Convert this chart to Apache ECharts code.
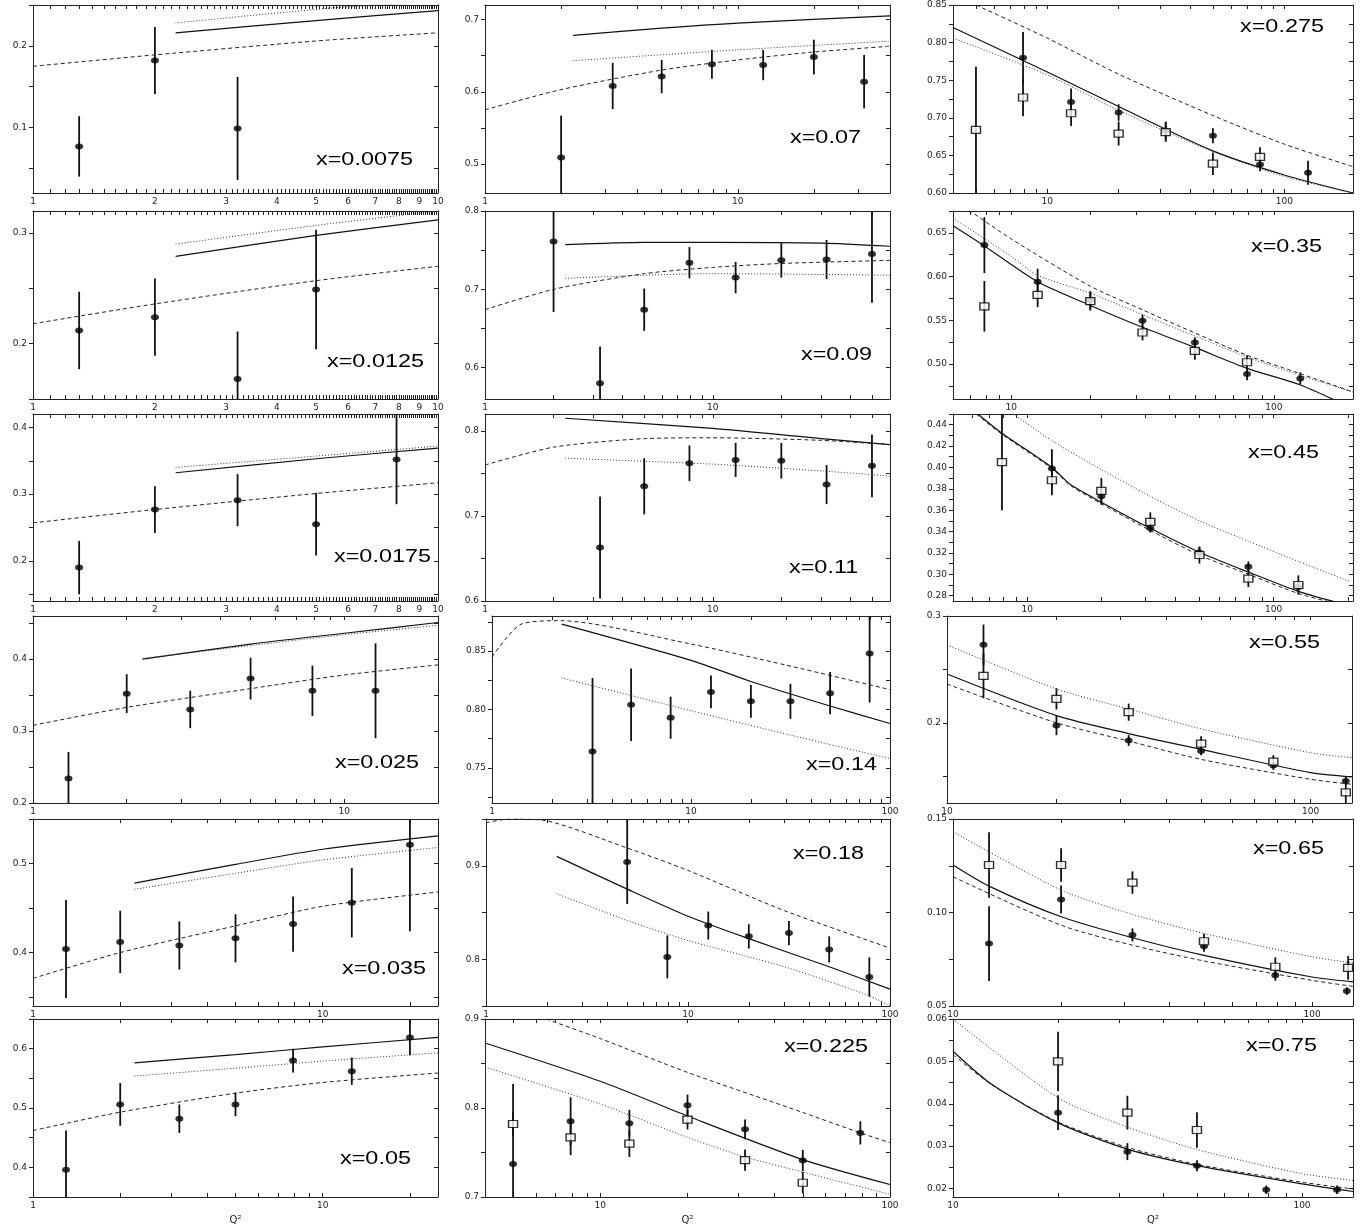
<!DOCTYPE html>
<html>
<head>
<meta charset="utf-8">
<title>F2 vs Q2</title>
<script src="https://cdn.jsdelivr.net/npm/echarts@6/dist/echarts.min.js"></script>
<style>
  html, body { margin: 0; padding: 0; background: #fff; }
  #main { width: 1372px; height: 1228px; }
</style>
</head>
<body>
<div id="main"></div>
<script>
// points are [Q2, value, error], curve points are [Q2, value]
// dots = filled circles, boxes = open squares

// x=0.0075
const dots1 = [[1.3, 0.077, 0.037], [2.0, 0.182, 0.041], [3.2, 0.099, 0.063]];
const solid1 = [[2.25, 0.216], [5, 0.231], [10, 0.243]];
const dash1 = [[1, 0.175], [2, 0.189], [5, 0.206], [10, 0.216]];
const dot1 = [[2.25, 0.228], [6, 0.248], [10, 0.253]];

// x=0.0125
const dots2 = [[1.3, 0.212, 0.035], [2.0, 0.224, 0.035], [3.2, 0.168, 0.043], [5.0, 0.249, 0.054]];
const solid2 = [[2.25, 0.279], [5, 0.298], [10, 0.312]];
const dash2 = [[1, 0.218], [2, 0.236], [5, 0.257], [10, 0.270]];
const dot2 = [[2.25, 0.290], [5, 0.307], [10, 0.320]];

// x=0.0175
const dots3 = [[1.3, 0.190, 0.040], [2.0, 0.277, 0.035], [3.2, 0.291, 0.039], [5.0, 0.255, 0.047], [7.9, 0.352, 0.067]];
const solid3 = [[2.25, 0.332], [5, 0.353], [10, 0.369]];
const dash3 = [[1, 0.257], [2, 0.277], [5, 0.301], [10, 0.317]];
const dot3 = [[2.25, 0.340], [5, 0.357], [10, 0.372]];

// x=0.025
const dots4 = [[1.3, 0.234, 0.037], [2.0, 0.352, 0.027], [3.2, 0.330, 0.026], [5.0, 0.373, 0.029], [7.9, 0.356, 0.035], [12.6, 0.356, 0.066]];
const solid4 = [[2.25, 0.400], [5, 0.421], [10, 0.436], [20, 0.451]];
const dash4 = [[1, 0.308], [2, 0.333], [5, 0.359], [10, 0.378], [20, 0.392]];
const dot4 = [[2.25, 0.401], [5, 0.419], [10, 0.434], [20, 0.447]];

// x=0.035
const dots5 = [[1.3, 0.404, 0.055], [2.0, 0.412, 0.035], [3.2, 0.408, 0.027], [5.0, 0.416, 0.027], [7.9, 0.432, 0.031], [12.6, 0.456, 0.039], [20, 0.521, 0.097]];
const solid5 = [[2.24, 0.478], [5, 0.499], [10, 0.516], [25, 0.531]];
const dash5 = [[1, 0.371], [2, 0.400], [5, 0.430], [10, 0.452], [25, 0.468]];
const dot5 = [[2.24, 0.471], [5, 0.489], [10, 0.504], [25, 0.518]];

// x=0.05
const dots6 = [[1.3, 0.396, 0.066], [2.0, 0.506, 0.036], [3.2, 0.482, 0.024], [5.0, 0.506, 0.020], [7.9, 0.580, 0.020], [12.6, 0.562, 0.023], [20, 0.619, 0.030]];
const solid6 = [[2.24, 0.576], [5, 0.590], [10, 0.603], [25, 0.619]];
const dash6 = [[1, 0.462], [2, 0.493], [5, 0.525], [10, 0.543], [25, 0.559]];
const dot6 = [[2.24, 0.554], [5, 0.567], [10, 0.579], [25, 0.593]];

// x=0.07
const dots7 = [[2.0, 0.509, 0.058], [3.2, 0.608, 0.032], [5.0, 0.621, 0.023], [7.9, 0.638, 0.020], [12.6, 0.637, 0.021], [20, 0.648, 0.024], [31.6, 0.614, 0.037]];
const solid7 = [[2.23, 0.678], [5, 0.688], [10, 0.695], [40, 0.705]];
const dash7 = [[1, 0.575], [2, 0.603], [5, 0.630], [10, 0.644], [20, 0.655], [40, 0.663]];
const dot7 = [[2.23, 0.643], [10, 0.658], [40, 0.670]];

// x=0.09
const dots8 = [[2.0, 0.761, 0.090], [3.2, 0.580, 0.047], [5.0, 0.674, 0.027], [7.9, 0.734, 0.020], [12.6, 0.715, 0.020], [20, 0.737, 0.022], [31.6, 0.738, 0.025], [50, 0.745, 0.062]];
const solid8 = [[2.25, 0.757], [5, 0.760], [10, 0.760], [30, 0.759], [60, 0.755]];
const dash8 = [[1, 0.674], [2, 0.700], [5, 0.720], [10, 0.728], [20, 0.733], [60, 0.737]];
const dot8 = [[2.25, 0.714], [5, 0.718], [10, 0.720], [30, 0.719], [60, 0.718]];

// x=0.11
const dots9 = [[3.2, 0.663, 0.060], [5.0, 0.735, 0.033], [7.9, 0.762, 0.021], [12.6, 0.766, 0.020], [20, 0.765, 0.021], [31.6, 0.737, 0.023], [50, 0.759, 0.037]];
const solid9 = [[2.25, 0.815], [10, 0.803], [30, 0.791], [60, 0.784]];
const dash9 = [[1, 0.760], [2, 0.781], [5, 0.791], [10, 0.792], [30, 0.789], [60, 0.784]];
const dot9 = [[2.25, 0.768], [10, 0.761], [30, 0.753], [60, 0.747]];

// x=0.14
const dots10 = [[3.2, 0.764, 0.063], [5.0, 0.804, 0.031], [7.9, 0.793, 0.018], [12.6, 0.815, 0.014], [20, 0.807, 0.014], [31.6, 0.807, 0.015], [50, 0.814, 0.018], [79, 0.848, 0.042]];
const solid10 = [[2.24, 0.873], [10, 0.842], [20, 0.824], [50, 0.803], [100, 0.788]];
const dash10 = [[1, 0.845], [1.4, 0.873], [2.2, 0.876], [10, 0.856], [30, 0.838], [100, 0.817]];
const dot10 = [[2.24, 0.827], [10, 0.799], [30, 0.779], [100, 0.758]];

// x=0.18
const dots11 = [[5.0, 0.904, 0.045], [7.9, 0.8025, 0.023], [12.6, 0.836, 0.015], [20, 0.8245, 0.013], [31.6, 0.828, 0.013], [50, 0.8105, 0.014], [79, 0.781, 0.021]];
const solid11 = [[2.24, 0.910], [5, 0.875], [10, 0.846], [20, 0.822], [50, 0.792], [100, 0.768]];
const dash11 = [[1, 0.946], [1.3, 0.950], [2, 0.948], [5, 0.919], [10, 0.895], [30, 0.852], [100, 0.812]];
const dot11 = [[2.24, 0.870], [5, 0.8415], [10, 0.820], [30, 0.792], [79, 0.761], [100, 0.750]];

// x=0.225
const dots12 = [[5.0, 0.737, 0.090], [7.9, 0.785, 0.027], [12.6, 0.783, 0.015], [20, 0.803, 0.012], [31.6, 0.776, 0.011], [50, 0.741, 0.012], [79, 0.772, 0.013]];
const boxes12 = [[5.0, 0.782, 0.013], [7.9, 0.767, 0.020], [12.6, 0.760, 0.015], [20, 0.787, 0.011], [31.6, 0.7415, 0.012], [50, 0.716, 0.012]];
const solid12 = [[4, 0.873], [10, 0.830], [20, 0.791], [50, 0.742], [100, 0.714]];
const dash12 = [[6.5, 0.900], [10, 0.878], [20, 0.840], [50, 0.795], [79, 0.772], [100, 0.761]];
const dot12 = [[4, 0.846], [10, 0.8045], [20, 0.767], [31.6, 0.745], [50, 0.728], [100, 0.703]];

// x=0.275
const dots13 = [[7.9, 0.780, 0.034], [12.6, 0.721, 0.018], [20, 0.707, 0.011], [31.6, 0.683, 0.012], [50, 0.676, 0.010], [79, 0.638, 0.009], [126, 0.627, 0.016]];
const boxes13 = [[5.0, 0.684, 0.084], [7.9, 0.727, 0.025], [12.6, 0.706, 0.017], [20, 0.679, 0.016], [31.6, 0.681, 0.013], [50, 0.639, 0.015], [79, 0.648, 0.013]];
const solid13 = [[4, 0.820], [10, 0.761], [20, 0.715], [50, 0.656], [100, 0.624], [195, 0.600]];
const dash13 = [[5, 0.850], [10, 0.806], [20, 0.758], [50, 0.703], [100, 0.665], [195, 0.635]];
const dot13 = [[4, 0.806], [10, 0.757], [20, 0.710], [50, 0.655], [100, 0.622], [195, 0.600]];

// x=0.35
const dots14 = [[7.9, 0.636, 0.032], [12.6, 0.594, 0.015], [20, 0.573, 0.010], [31.6, 0.5495, 0.007], [50, 0.5245, 0.006], [79, 0.4885, 0.007], [126, 0.4835, 0.007]];
const boxes14 = [[7.9, 0.566, 0.029], [12.6, 0.579, 0.014], [20, 0.572, 0.011], [31.6, 0.536, 0.009], [50, 0.515, 0.010], [79, 0.502, 0.008]];
const solid14 = [[6, 0.658], [7.9, 0.635], [12.6, 0.594], [20, 0.567], [31.6, 0.542], [50, 0.519], [79, 0.495], [126, 0.476], [200, 0.449]];
const dash14 = [[6.9, 0.676], [10, 0.643], [20, 0.589], [31.6, 0.562], [50, 0.5355], [79, 0.510], [126, 0.489], [200, 0.468]];
const dot14 = [[6, 0.667], [10, 0.623], [12.6, 0.6015], [20, 0.581], [31.6, 0.5565], [50, 0.532], [79, 0.508], [126, 0.487], [200, 0.468]];

// x=0.45
const dots15 = [[12.6, 0.399, 0.018], [20, 0.373, 0.008], [31.6, 0.343, 0.004], [50, 0.3205, 0.005], [79, 0.307, 0.005], [126, 0.288, 0.005]];
const boxes15 = [[7.9, 0.405, 0.045], [12.6, 0.388, 0.014], [20, 0.378, 0.012], [31.6, 0.349, 0.009], [50, 0.318, 0.008], [79, 0.296, 0.008], [126, 0.290, 0.009]];
const solid15 = [[6.3, 0.450], [7.9, 0.432], [12.6, 0.400], [15, 0.384], [20, 0.3675], [31.6, 0.343], [50, 0.3206], [79, 0.302], [126, 0.284], [176, 0.2744]];
const dash15 = [[6.2, 0.450], [7.9, 0.431], [12.6, 0.399], [15, 0.383], [20, 0.366], [31.6, 0.341], [50, 0.318], [79, 0.300], [126, 0.282], [170, 0.274]];
const dot15 = [[8.8, 0.450], [12.6, 0.425], [20, 0.398], [31.6, 0.373], [50, 0.350], [79, 0.331], [126, 0.312], [205, 0.293]];

// x=0.55
const dots16 = [[12.6, 0.273, 0.019], [20, 0.1975, 0.009], [31.6, 0.1835, 0.005], [50, 0.1736, 0.004], [79, 0.160, 0.004], [125, 0.1457, 0.004]];
const boxes16 = [[12.6, 0.244, 0.021], [20, 0.2225, 0.010], [31.6, 0.210, 0.008], [50, 0.1805, 0.007], [79, 0.1637, 0.006], [125, 0.135, 0.012]];
const solid16 = [[10, 0.2457], [20, 0.2068], [31.6, 0.190], [50, 0.1752], [100, 0.1534], [130, 0.1494]];
const dash16 = [[10, 0.2363], [20, 0.200], [31.6, 0.183], [50, 0.1658], [100, 0.1472], [130, 0.1425]];
const dot16 = [[10, 0.273], [20, 0.2317], [31.6, 0.213], [50, 0.1944], [100, 0.172], [130, 0.1674]];

// x=0.65
const dots17 = [[12.6, 0.0834, 0.020], [20, 0.107, 0.0075], [31.6, 0.088, 0.0035], [50, 0.082, 0.003], [79, 0.0665, 0.003], [125, 0.058, 0.002]];
const boxes17 = [[12.6, 0.1254, 0.0175], [20, 0.1254, 0.009], [31.6, 0.116, 0.006], [50, 0.0846, 0.004], [79, 0.071, 0.005], [126, 0.0704, 0.0063]];
const solid17 = [[10, 0.1254], [12.6, 0.1141], [20, 0.0977], [31.6, 0.0865], [50, 0.0771], [100, 0.0655], [130, 0.0629]];
const dash17 = [[10, 0.1191], [20, 0.0932], [31.6, 0.0825], [50, 0.0741], [100, 0.0637], [130, 0.0605]];
const dot17 = [[10, 0.1432], [20, 0.112], [31.6, 0.099], [50, 0.0888], [100, 0.0763], [130, 0.073]];

// x=0.75
const dots18 = [[20, 0.0379, 0.0041], [31.6, 0.0287, 0.002], [50, 0.0254, 0.0013], [79, 0.0197, 0.001], [126, 0.0197, 0.001]];
const boxes18 = [[20, 0.050, 0.007], [31.6, 0.0379, 0.004], [50, 0.0338, 0.0042]];
const solid18 = [[10, 0.0524], [13, 0.0444], [20, 0.0355], [31.6, 0.0293], [50, 0.0254], [100, 0.0211], [140, 0.0193]];
const dash18 = [[10, 0.0516], [13, 0.0443], [20, 0.0357], [31.6, 0.0297], [50, 0.0257], [100, 0.0215], [140, 0.0199]];
const dot18 = [[10, 0.060], [20, 0.0414], [31.6, 0.0345], [50, 0.0292], [100, 0.0235], [140, 0.0219]];

// panel layout: box = [left, top, width, height], x/y = axis ranges
const panels = [
  { name: 'x=0.0075', box: [33, 5, 405, 188], x: [1, 10], y: [0.02, 0.25], yLab: [0.1, 0.2], step: 0.05, dec: 1, fine: true, dots: dots1, solid: solid1, dash: dash1, dot: dot1, tx: 316, ty: 160 },
  { name: 'x=0.0125', box: [33, 211, 405, 188], x: [1, 10], y: [0.15, 0.32], yLab: [0.2, 0.3], step: 0.05, dec: 1, fine: true, dots: dots2, solid: solid2, dash: dash2, dot: dot2, tx: 327, ty: 362 },
  { name: 'x=0.0175', box: [33, 414, 405, 187], x: [1, 10], y: [0.14, 0.42], yLab: [0.2, 0.3, 0.4], step: 0.05, dec: 1, fine: true, dots: dots3, solid: solid3, dash: dash3, dot: dot3, tx: 334, ty: 557 },
  { name: 'x=0.025', box: [33, 616, 405, 187], x: [1, 20], y: [0.2, 0.46], yLab: [0.2, 0.3, 0.4], step: 0.05, dec: 1, dots: dots4, solid: solid4, dash: dash4, dot: dot4, tx: 335, ty: 763 },
  { name: 'x=0.035', box: [33, 819, 405, 187], x: [1, 25], y: [0.34, 0.55], yLab: [0.4, 0.5], step: 0.05, dec: 1, dots: dots5, solid: solid5, dash: dash5, dot: dot5, tx: 342, ty: 969 },
  { name: 'x=0.05', box: [33, 1019, 405, 178], x: [1, 25], y: [0.35, 0.65], yLab: [0.4, 0.5, 0.6], step: 0.05, dec: 1, q2: true, dots: dots6, solid: solid6, dash: dash6, dot: dot6, tx: 340, ty: 1159 },

  { name: 'x=0.07', box: [485, 5, 405, 188], x: [1, 40], y: [0.46, 0.72], yLab: [0.5, 0.6, 0.7], step: 0.05, dec: 1, dots: dots7, solid: solid7, dash: dash7, dot: dot7, tx: 790, ty: 138 },
  { name: 'x=0.09', box: [485, 211, 405, 188], x: [1, 60], y: [0.56, 0.8], yLab: [0.6, 0.7, 0.8], step: 0.05, dec: 1, dots: dots8, solid: solid8, dash: dash8, dot: dot8, tx: 801, ty: 355 },
  { name: 'x=0.11', box: [485, 414, 405, 187], x: [1, 60], y: [0.6, 0.82], yLab: [0.6, 0.7, 0.8], step: 0.05, dec: 1, dots: dots9, solid: solid9, dash: dash9, dot: dot9, tx: 789, ty: 568 },
  { name: 'x=0.14', box: [492, 616, 398, 187], x: [1, 100], y: [0.72, 0.88], yLab: [0.75, 0.8, 0.85], step: 0.025, dec: 2, dots: dots10, solid: solid10, dash: dash10, dot: dot10, tx: 806, ty: 765 },
  { name: 'x=0.18', box: [486, 819, 404, 187], x: [1, 100], y: [0.75, 0.95], yLab: [0.8, 0.9], step: 0.05, dec: 1, dots: dots11, solid: solid11, dash: dash11, dot: dot11, tx: 793, ty: 854 },
  { name: 'x=0.225', box: [485, 1019, 405, 178], x: [4, 100], y: [0.7, 0.9], yLab: [0.7, 0.8, 0.9], step: 0.05, dec: 1, q2: true, dots: dots12, boxes: boxes12, solid: solid12, dash: dash12, dot: dot12, tx: 784, ty: 1047 },

  { name: 'x=0.275', box: [953, 5, 400, 188], x: [4, 195], y: [0.6, 0.85], yLab: [0.6, 0.65, 0.7, 0.75, 0.8, 0.85], step: 0.025, dec: 2, dots: dots13, boxes: boxes13, solid: solid13, dash: dash13, dot: dot13, tx: 1240, ty: 27 },
  { name: 'x=0.35', box: [953, 211, 400, 188], x: [6, 200], y: [0.46, 0.675], yLab: [0.5, 0.55, 0.6, 0.65], step: 0.025, dec: 2, dots: dots14, boxes: boxes14, solid: solid14, dash: dash14, dot: dot14, tx: 1251, ty: 247 },
  { name: 'x=0.45', box: [953, 414, 400, 187], x: [5, 210], y: [0.275, 0.45], yLab: [0.28, 0.3, 0.32, 0.34, 0.36, 0.38, 0.4, 0.42, 0.44], step: 0.01, dec: 2, dots: dots15, boxes: boxes15, solid: solid15, dash: dash15, dot: dot15, tx: 1248, ty: 453 },
  { name: 'x=0.55', box: [947, 616, 405, 187], x: [10, 130], y: [0.125, 0.3], yLab: [0.2, 0.3], step: 0.05, dec: 1, dots: dots16, boxes: boxes16, solid: solid16, dash: dash16, dot: dot16, tx: 1249, ty: 643 },
  { name: 'x=0.65', box: [953, 819, 400, 187], x: [10, 130], y: [0.05, 0.15], yLab: [0.05, 0.1, 0.15], step: 0.025, dec: 2, dots: dots17, boxes: boxes17, solid: solid17, dash: dash17, dot: dot17, tx: 1253, ty: 849 },
  { name: 'x=0.75', box: [953, 1019, 400, 178], x: [10, 140], y: [0.018, 0.06], yLab: [0.02, 0.03, 0.04, 0.05, 0.06], step: 0.005, dec: 2, q2: true, dots: dots18, boxes: boxes18, solid: solid18, dash: dash18, dot: dot18, tx: 1246, ty: 1046 }
];

// tick helpers
function steps(min, max, step) {
  let out = [];
  for (let k = Math.ceil(min / step - 1e-9); k * step <= max + 1e-9; k++) {
    out.push(+(k * step).toFixed(4));
  }
  return out;
}
function logTicks(min, max) {
  let out = [];
  for (let d = 1; d <= 1000; d *= 10) {
    for (let k = 1; k < 10; k++) {
      let v = k * d;
      if (v >= min && v <= max) out.push(v);
    }
  }
  return out;
}
function fineTicks() {
  // the small-x panels carry a tick every 0.1 between 1 and 10
  let out = [];
  for (let i = 10; i <= 100; i++) out.push(i / 10);
  return out;
}

const lineColor = '#222';
const labelFont = { fontSize: 9, fontFamily: 'DejaVu Sans', color: '#222' };

function errBars(data, xi, yi) {
  return {
    type: 'custom',
    xAxisIndex: xi,
    yAxisIndex: yi,
    clip: true,
    silent: true,
    z: 2,
    encode: { x: 0, y: 1 },
    data: data,
    renderItem: function (params, api) {
      const x = api.value(0), y = api.value(1), e = api.value(2);
      const top = api.coord([x, y + e]);
      const bot = api.coord([x, y - e]);
      return {
        type: 'line',
        shape: { x1: top[0], y1: top[1], x2: bot[0], y2: bot[1] },
        style: { stroke: '#111', lineWidth: 1.8 }
      };
    }
  };
}

function curve(data, xi, yi, type, width, color) {
  return {
    type: 'line',
    xAxisIndex: xi,
    yAxisIndex: yi,
    data: data,
    symbol: 'none',
    smooth: 0.25,
    silent: true,
    z: 3,
    lineStyle: { color: color, width: width, type: type }
  };
}

let grid = [], xAxis = [], yAxis = [], series = [], graphic = [];

panels.forEach((p, i) => {
  grid.push({ left: p.box[0], top: p.box[1], width: p.box[2], height: p.box[3] });

  const xTicks = p.fine ? fineTicks() : logTicks(p.x[0], p.x[1]);
  const xLabs = p.fine ? [1, 2, 3, 4, 5, 6, 7, 8, 9, 10] : [1, 10, 100];
  const yTicks = steps(p.y[0], p.y[1], p.step);

  // bottom and top axes
  [false, true].forEach(isTop => {
    xAxis.push({
      gridIndex: i,
      type: 'log',
      logBase: 10,
      min: p.x[0],
      max: p.x[1],
      position: isTop ? 'top' : 'bottom',
      splitLine: { show: false },
      axisLine: { show: true, onZero: false, lineStyle: { color: lineColor, width: 1 } },
      axisTick: { show: true, inside: true, length: 4, customValues: xTicks, lineStyle: { color: lineColor } },
      axisLabel: {
        show: !isTop,
        customValues: xLabs,
        margin: 4,
        formatter: v => String(v),
        ...labelFont
      },
      name: (!isTop && p.q2) ? 'Q²' : '',
      nameLocation: 'middle',
      nameGap: 18,
      nameTextStyle: { fontSize: 10, fontFamily: 'DejaVu Sans', color: '#222' }
    });
  });

  // left and right axes
  [false, true].forEach(isRight => {
    yAxis.push({
      gridIndex: i,
      type: 'value',
      min: p.y[0],
      max: p.y[1],
      position: isRight ? 'right' : 'left',
      splitLine: { show: false },
      axisLine: { show: true, onZero: false, lineStyle: { color: lineColor, width: 1 } },
      axisTick: { show: true, inside: isRight, length: 4, customValues: yTicks, lineStyle: { color: lineColor } },
      axisLabel: {
        show: !isRight,
        customValues: p.yLab,
        margin: 6,
        formatter: v => v.toFixed(p.dec),
        ...labelFont
      }
    });
  });

  const xi = 2 * i, yi = 2 * i;

  series.push(curve(p.solid, xi, yi, 'solid', 1.2, '#111'));
  series.push(curve(p.dash, xi, yi, [4, 3], 1, '#222'));
  series.push(curve(p.dot, xi, yi, [1, 2], 1, '#333'));

  if (p.boxes) {
    series.push(errBars(p.boxes, xi, yi));
  }
  series.push(errBars(p.dots, xi, yi));
  series.push({
    type: 'scatter',
    xAxisIndex: xi,
    yAxisIndex: yi,
    data: p.dots.map(d => [d[0], d[1]]),
    symbol: 'circle',
    symbolSize: [8, 6],
    silent: true,
    z: 5,
    itemStyle: { color: '#000' }
  });
  if (p.boxes) {
    series.push({
      type: 'scatter',
      xAxisIndex: xi,
      yAxisIndex: yi,
      data: p.boxes.map(d => [d[0], d[1]]),
      symbol: 'rect',
      symbolSize: [9, 7],
      silent: true,
      z: 6,
      itemStyle: { color: '#fff', borderColor: '#000', borderWidth: 1.3 }
    });
  }

  // x=... label inside each panel
  graphic.push({
    type: 'text',
    x: p.tx,
    y: p.ty,
    scaleX: 1.3,
    silent: true,
    z: 10,
    style: {
      text: p.name,
      font: '18px "Liberation Sans", Arial, sans-serif',
      fill: '#000',
      verticalAlign: 'middle'
    }
  });
});

const chart = echarts.init(document.getElementById('main'));
chart.setOption({
  animation: false,
  backgroundColor: '#fff',
  grid: grid,
  xAxis: xAxis,
  yAxis: yAxis,
  series: series,
  graphic: graphic
});
</script>
</body>
</html>
